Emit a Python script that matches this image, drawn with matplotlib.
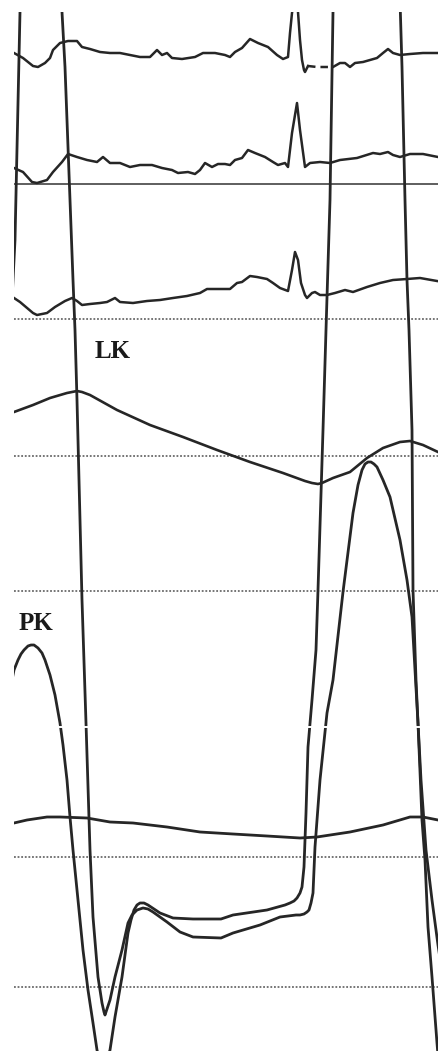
import numpy as np
import matplotlib
matplotlib.use("Agg")
import matplotlib.pyplot as plt

# --- trace data (time units ~ px, level units ~ px, y grows downwards)
ecg1_t = [14,23,33,38,45,50,53,60,68,77,82,90,100,110,120,130,140,150,157,162,167,172,182,195,203,215,225,230,235,242,250,258,268,277,283,288,290,292,295,298,300,302,304,305,308]
ecg1_v = [53,58,66,67,63,58,50,43,41,41,47,49,52,53,53,55,57,57,50,55,53,58,59,57,53,53,55,57,52,48,39,43,47,55,59,57,33,13,-5,12,40,60,70,72,66]
ecg1_dash_t = [308,317,323,333]
ecg1_dash_v = [66,67,67,67]
ecg1b_t = [333,340,345,350,355,363,370,377,383,388,393,400,410,423,438]
ecg1b_v = [67,63,63,67,63,62,60,58,53,49,53,55,54,53,53]

ecg2_t = [14,23,32,37,47,53,62,68,77,87,97,103,110,120,130,140,152,162,172,178,188,195,200,205,212,218,225,230,235,242,248,255,265,273,278,285,288,292,297,300,305,310,320,330,340,357,373,380,388,393,400,410,423,438]
ecg2_v = [168,172,182,183,180,172,162,154,157,160,162,157,163,163,167,165,165,168,170,173,172,174,170,163,167,164,164,165,160,158,150,153,157,162,165,163,167,133,103,130,167,163,162,163,160,158,153,154,152,155,157,154,154,157]

ecg3_t = [14,20,33,37,47,55,65,72,77,82,90,100,107,115,120,133,147,160,173,187,200,207,221,230,237,242,250,257,267,273,280,288,292,295,298,301,305,307,312,315,320,327,335,345,353,367,380,393,407,420,437]
ecg3_v = [298,302,313,315,313,307,301,298,301,305,304,303,302,298,302,303,301,300,298,296,293,289,289,289,283,282,276,277,279,283,288,291,270,252,260,283,295,298,293,292,295,295,293,290,292,287,283,280,279,278,281]

lk_t = [14,33,50,67,72,77,82,90,117,150,183,217,250,283,305,312,318,322,333,350,367,383,400,410,423,438]
lk_v = [412,405,398,393,392,391,392,395,410,425,437,450,462,473,481,483,484,483,478,472,458,448,442,441,445,452]

mid_t = [14,27,47,60,87,110,133,167,200,233,267,300,317,350,383,410,423,438]
mid_v = [823,820,817,817,818,822,823,827,832,834,836,838,837,832,825,817,817,820]

# PK, outer channel (starts on scale at left, goes off scale at top)
pk1_t = [10,14,18,21,24,28,31,34,38,42,45,50,55,60,63,67,70,73,78,83,88,93,97,100,103,106,110,115,122,128,131,134,137,140,144,148,154,160,173,193,221,233,267,285,290,294,297,300,302,304,306,308,312,316,318,323,326,330,333,334]
pk1_v = [690,670,660,654,650,646,645,645,648,653,660,675,695,723,745,780,817,850,900,950,990,1023,1050,1062,1068,1062,1050,1017,977,933,920,910,905,903,903,905,909,913,918,919,919,915,910,905,903,901,898,893,887,867,813,747,700,650,590,430,330,200,12,-10]

# PK, second channel (comes down from the top, on scale peak at right)
pk2_t = [61,62,65,70,73,75,77,80,82,86,90,93,98,102,104,105,106,108,110,115,122,128,132,137,143,148,153,167,180,193,221,233,260,280,296,300,304,307,309,311,313,315,320,327,333,343,353,358,362,365,368,371,374,377,383,390,400,407,412,418,421,426,432,438,441]
pk2_v = [-10,12,67,200,280,330,400,520,600,723,850,917,977,1003,1012,1015,1012,1006,1000,977,950,923,915,910,908,909,912,922,932,937,938,933,925,917,915,915,914,912,910,903,893,847,780,713,680,592,513,485,470,464,462,462,464,467,480,497,540,580,617,723,780,850,900,945,965]

# steep line at the far left and far right of the record
left_t = [21,20,15,12]
left_v = [-10,12,240,300]
right_t = [400,402,405,407,409,412,413,416,418,422,425,428,432,437,440]
right_v = [0,67,200,280,330,430,590,680,723,820,860,927,977,1043,1080]

ref_solid = 184
ref_dotted = [319, 456, 591, 857, 987]
gap_line = 727

ink = "#262626"

fig = plt.figure(figsize=(4.41, 10.51), dpi=100)
ax = fig.add_axes([14/441, 0, 424/441, 1039/1051])
ax.set_xlim(14, 438)
ax.set_ylim(1051, 12)
ax.axis("off")

for y in ref_dotted:
    ax.axhline(y, color="#6a6a6a", lw=1.3, linestyle=(0, (1, 1)), zorder=1)
ax.axhline(ref_solid, color="#333333", lw=1.1, zorder=1)

ax.plot(ecg1_t, ecg1_v, color=ink, lw=1.8, zorder=3)
ax.plot(ecg1_dash_t, ecg1_dash_v, color=ink, lw=1.8, linestyle=(0, (3, 2)), zorder=3)
ax.plot(ecg1b_t, ecg1b_v, color=ink, lw=1.8, zorder=3)
ax.plot(ecg2_t, ecg2_v, color=ink, lw=1.8, zorder=3)
ax.plot(ecg3_t, ecg3_v, color=ink, lw=1.8, zorder=3)
ax.plot(lk_t, lk_v, color=ink, lw=1.9, zorder=3)
ax.plot(mid_t, mid_v, color=ink, lw=2.0, zorder=3)
ax.plot(pk1_t, pk1_v, color=ink, lw=2.0, zorder=3)
ax.plot(pk2_t, pk2_v, color=ink, lw=2.0, zorder=3)
ax.plot(left_t, left_v, color=ink, lw=2.0, zorder=3)
ax.plot(right_t, right_v, color=ink, lw=2.0, zorder=3)

ax.axhline(gap_line, color="white", lw=1.4, zorder=4)

ax.text(113, 352, "LK", fontfamily="Liberation Serif", fontweight="bold",
        fontsize=18, ha="center", va="center", color="#1a1a1a")
ax.text(36, 623, "PK", fontfamily="Liberation Serif", fontweight="bold",
        fontsize=18, ha="center", va="center", color="#1a1a1a")

fig.savefig("out.png", dpi=100, facecolor="white")
